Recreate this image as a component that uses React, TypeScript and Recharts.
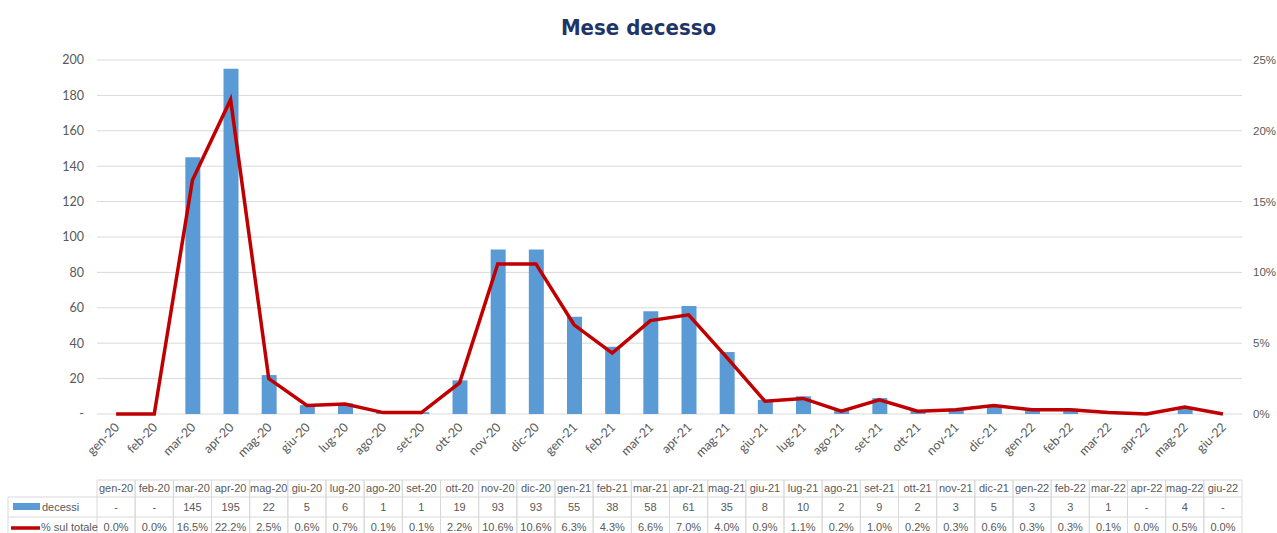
import { ComposedChart, Bar, Line, XAxis, YAxis, CartesianGrid } from 'recharts';

const months = [
  'gen-20', 'feb-20', 'mar-20', 'apr-20', 'mag-20', 'giu-20', 'lug-20', 'ago-20', 'set-20', 'ott-20',
  'nov-20', 'dic-20', 'gen-21', 'feb-21', 'mar-21', 'apr-21', 'mag-21', 'giu-21', 'lug-21', 'ago-21',
  'set-21', 'ott-21', 'nov-21', 'dic-21', 'gen-22', 'feb-22', 'mar-22', 'apr-22', 'mag-22', 'giu-22',
];
const decessi = [0, 0, 145, 195, 22, 5, 6, 1, 1, 19, 93, 93, 55, 38, 58, 61, 35, 8, 10, 2, 9, 2, 3, 5, 3, 3, 1, 0, 4, 0];
const percentuale = [
  0.0, 0.0, 16.5, 22.2, 2.5, 0.6, 0.7, 0.1, 0.1, 2.2, 10.6, 10.6, 6.3, 4.3, 6.6, 7.0, 4.0, 0.9, 1.1, 0.2,
  1.0, 0.2, 0.3, 0.6, 0.3, 0.3, 0.1, 0.0, 0.5, 0.0,
];
const leftTicks = [0, 20, 40, 60, 80, 100, 120, 140, 160, 180, 200];
const rightTicks = [0, 5, 10, 15, 20, 25];

const data = months.map((m, i) => ({ month: m, decessi: decessi[i], pct: percentuale[i] }));

const WIDTH = 1277;
const HEIGHT = 533;
const LEFT_W = 97;
const RIGHT_W = 35;
const BAND = (WIDTH - LEFT_W - RIGHT_W) / months.length;
const GREY = '#595959';
const BORDER = '#d9d9d9';
const FONT = 'Lato, "Open Sans", sans-serif';
const TABLE_FONT = '"Liberation Sans", Arial, sans-serif';

function MonthTick(props: any) {
  const { x, y, payload, index } = props;
  const i = months.indexOf(payload.value);
  const l = x - BAND / 2;
  const r = x + BAND / 2;
  const dec = decessi[i] === 0 ? '-' : String(decessi[i]);
  const pct = percentuale[i].toFixed(1) + '%';
  return (
    <g fontSize={11} fill={GREY}>
      <text
        x={x + 4}
        y={y + 14}
        textAnchor="end"
        fontFamily={FONT}
        fontSize={12.5}
        transform={`rotate(-45, ${x + 4}, ${y + 14})`}
      >
        {payload.value}
      </text>
      {/* data table column */}
      <g fontFamily={TABLE_FONT}>
        <line x1={l} x2={r} y1={y + 66} y2={y + 66} stroke={BORDER} />
        <line x1={l} x2={r} y1={y + 83} y2={y + 83} stroke={BORDER} />
        <line x1={l} x2={r} y1={y + 103} y2={y + 103} stroke={BORDER} />
        <line x1={l} x2={l} y1={y + 66} y2={y + 125} stroke={BORDER} />
        <line x1={r} x2={r} y1={y + 66} y2={y + 125} stroke={BORDER} />
        <text x={x} y={y + 78} textAnchor="middle">{payload.value}</text>
        <text x={x} y={y + 97} textAnchor="middle">{dec}</text>
        <text x={x} y={y + 117} textAnchor="middle">{pct}</text>
        {index === 0 && (
          <g>
            <line x1={8} x2={l} y1={y + 83} y2={y + 83} stroke={BORDER} />
            <line x1={8} x2={l} y1={y + 103} y2={y + 103} stroke={BORDER} />
            <line x1={8} x2={8} y1={y + 83} y2={y + 125} stroke={BORDER} />
            <rect x={13} y={y + 89} width={27} height={7} fill="#5B9BD5" />
            <text x={42} y={y + 97}>decessi</text>
            <line x1={11} x2={40} y1={y + 114} y2={y + 114} stroke="#C00000" strokeWidth={3.5} />
            <text x={41} y={y + 117}>% sul totale</text>
          </g>
        )}
      </g>
    </g>
  );
}

export default function App() {
  return (
    <div style={{ position: 'absolute', left: 0, top: 0, width: WIDTH, height: HEIGHT, background: '#fff' }}>
      <div
        style={{
          position: 'absolute',
          top: 15,
          left: 0,
          width: WIDTH,
          textAlign: 'center',
          fontFamily: '"DejaVu Sans Condensed", "DejaVu Sans", sans-serif',
          fontWeight: 'bold',
          fontSize: 22,
          color: '#1F3468',
        }}
      >
        Mese decesso
      </div>
      <ComposedChart
        width={WIDTH}
        height={HEIGHT}
        data={data}
        margin={{ top: 60, right: 0, left: 0, bottom: 0 }}
      >
        <CartesianGrid yAxisId="left" vertical={false} stroke={BORDER} />
        <XAxis
          dataKey="month"
          interval={0}
          height={HEIGHT - 414}
          tickSize={0}
          tickMargin={0}
          axisLine={false}
          tickLine={false}
          tick={<MonthTick />}
        />
        <YAxis
          yAxisId="left"
          width={LEFT_W}
          domain={[0, 200]}
          ticks={leftTicks}
          interval={0}
          axisLine={false}
          tickLine={false}
          tickSize={0}
          tickMargin={13}
          tick={{ fill: GREY, fontSize: 12.5, fontFamily: FONT }}
          tickFormatter={(v: number) => (v === 0 ? '-  ' : String(v))}
        />
        <YAxis
          yAxisId="right"
          orientation="right"
          width={RIGHT_W}
          domain={[0, 25]}
          ticks={rightTicks}
          interval={0}
          axisLine={false}
          tickLine={false}
          tickSize={0}
          tickMargin={11}
          tick={{ fill: GREY, fontSize: 11.5, fontFamily: TABLE_FONT }}
          tickFormatter={(v: number) => `${v}%`}
        />
        <Bar yAxisId="left" dataKey="decessi" fill="#5B9BD5" barSize={15} isAnimationActive={false} />
        <Line
          yAxisId="right"
          type="linear"
          dataKey="pct"
          stroke="#C00000"
          strokeWidth={3.5}
          dot={false}
          activeDot={false}
          isAnimationActive={false}
        />
      </ComposedChart>
    </div>
  );
}
